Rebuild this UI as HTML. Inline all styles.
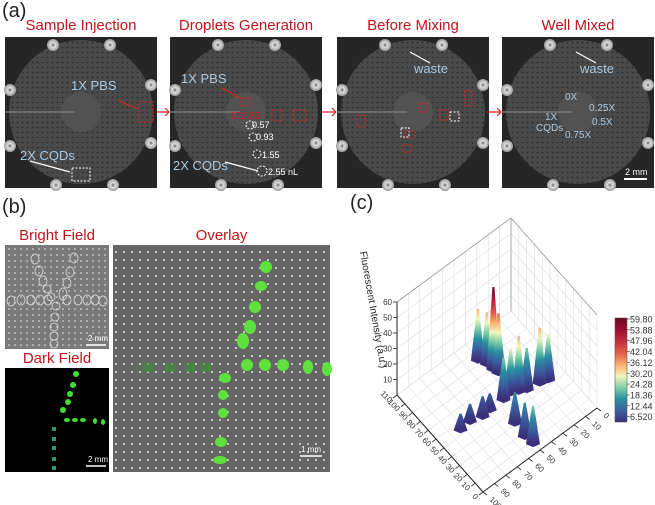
<!DOCTYPE html>
<html><head><meta charset="utf-8"><style>
html,body{margin:0;padding:0;background:#fff;}
body{width:655px;height:505px;position:relative;overflow:hidden;font-family:"Liberation Sans",sans-serif;}
.t{position:absolute;color:#c0141c;font-size:15px;text-align:center;white-space:nowrap;}
.pl{position:absolute;font-size:20px;color:#222;}
</style></head><body>
<div class="pl" style="left:2px;top:0px">(a)</div>
<div class="pl" style="left:2px;top:196px">(b)</div>
<div class="pl" style="left:350px;top:192px">(c)</div>
<div class="t" style="left:5px;width:152px;top:17px">Sample Injection</div>
<div class="t" style="left:165px;width:162px;top:17px">Droplets Generation</div>
<div class="t" style="left:337px;width:152px;top:17px">Before Mixing</div>
<div class="t" style="left:502px;width:152px;top:17px">Well Mixed</div>
<div class="t" style="left:5px;width:104px;top:227px">Bright Field</div>
<div class="t" style="left:5px;width:104px;top:350px">Dark Field</div>
<div class="t" style="left:113px;width:217px;top:227px">Overlay</div>

<svg width="655" height="505" style="position:absolute;left:0;top:0">
<defs>
<pattern id="dd" width="5" height="5" patternUnits="userSpaceOnUse"><rect width="5" height="5" fill="#4a4a4a"/><circle cx="2.5" cy="2.5" r="0.9" fill="#2a2a2a"/></pattern>
<pattern id="wd" width="6" height="6" patternUnits="userSpaceOnUse"><rect width="6" height="6" fill="#7a7a7a"/><circle cx="3" cy="3" r="0.8" fill="#e8e8e8"/></pattern>
<pattern id="wd2" width="8" height="8" patternUnits="userSpaceOnUse"><rect width="8" height="8" fill="#666"/><circle cx="4" cy="4" r="1" fill="#e0e0e0"/></pattern>
<radialGradient id="bolt"><stop offset="0" stop-color="#666"/><stop offset="0.4" stop-color="#ddd"/><stop offset="1" stop-color="#999"/></radialGradient>
<linearGradient id="cbar" x1="0" y1="1" x2="0" y2="0">
<stop offset="0" stop-color="#3b2f7a"/><stop offset="0.11" stop-color="#3a5fa0"/><stop offset="0.22" stop-color="#2a8fa0"/><stop offset="0.33" stop-color="#7fcfa5"/><stop offset="0.44" stop-color="#f5f5c0"/><stop offset="0.55" stop-color="#f9b070"/><stop offset="0.66" stop-color="#e0604a"/><stop offset="0.77" stop-color="#c83040"/><stop offset="0.88" stop-color="#a01030"/><stop offset="1" stop-color="#6a0a20"/></linearGradient>
</defs>
<g id="panelsA"></g>
<g stroke="#d22" stroke-width="1.2" fill="none">
<path d="M157 112 H169 M165 108 L169 112 L165 116"/>
<path d="M322 112 H336 M332 108 L336 112 L332 116"/>
<path d="M487 112 H501 M497 108 L501 112 L497 116"/>
</g>
<g font-size="13" fill="#a8c8e0">
<text x="71" y="90">1X PBS</text><text x="20" y="160">2X CQDs</text>
<text x="181" y="83">1X PBS</text><text x="173" y="170">2X CQDs</text>
<text x="414" y="73">waste</text><text x="580" y="73">waste</text>
</g>
<g font-size="10" fill="#a8c8e0">
<text x="565" y="100">0X</text><text x="589" y="111">0.25X</text><text x="592" y="125">0.5X</text>
<text x="545" y="120">1X</text><text x="536" y="131">CQDs</text><text x="565" y="138">0.75X</text>
</g>
<g font-size="9" fill="#fff"><text x="252" y="128">0.57</text><text x="256" y="140">0.93</text><text x="262" y="158">1.55</text><text x="268" y="175">2.55 nL</text></g>
<g font-size="10" fill="#d01818"><text x="230" y="119">172.53</text></g>
<g fill="none" stroke-dasharray="2,1.5" stroke-width="1">
<rect x="138" y="102" width="15" height="20" stroke="#d22"/>
<rect x="72" y="168" width="18" height="13" stroke="#fff"/>
<rect x="241" y="98" width="10" height="8" stroke="#d22"/>
<rect x="272" y="110" width="10" height="11" stroke="#d22"/><rect x="293" y="110" width="13" height="11" stroke="#d22"/>
<circle cx="250" cy="125" r="4" stroke="#fff"/><circle cx="253" cy="137" r="4" stroke="#fff"/><circle cx="257" cy="154" r="4" stroke="#fff"/><circle cx="262" cy="171" r="5" stroke="#fff"/>
<rect x="357" y="115" width="8" height="12" stroke="#d22"/><rect x="401" y="128" width="8" height="9" stroke="#fff"/>
<rect x="405" y="131" width="10" height="7" stroke="#d22"/><rect x="402" y="145" width="10" height="7" stroke="#d22"/>
<rect x="419" y="103" width="8" height="9" stroke="#d22"/><rect x="440" y="110" width="8" height="10" stroke="#d22"/><rect x="450" y="112" width="9" height="9" stroke="#fff"/>
<rect x="465" y="91" width="7" height="15" stroke="#d22"/>
</g>
<g stroke="#fff" stroke-width="1.2"><line x1="30" y1="161" x2="70" y2="172"/><line x1="225" y1="162" x2="258" y2="171"/><line x1="430" y1="63" x2="410" y2="52"/><line x1="596" y1="63" x2="576" y2="52"/></g>
<g stroke="#d22" stroke-width="1.2"><line x1="118" y1="100" x2="137" y2="109"/><line x1="222" y1="88" x2="240" y2="98"/></g>
<g stroke="#fff" stroke-width="2"><line x1="624" y1="179" x2="647" y2="179"/></g>
<text x="625" y="175" font-size="9" fill="#fff">2 mm</text>

<rect x="5" y="245" width="104" height="104" fill="url(#wd)"/>
<rect x="5" y="368" width="104" height="104" fill="#000"/>
<rect x="113" y="245" width="217" height="227" fill="url(#wd2)"/>
<g fill="none" stroke="#ddd" stroke-width="0.8">
<ellipse cx="35" cy="259" rx="4" ry="5"/><ellipse cx="39" cy="271" rx="4" ry="5"/><ellipse cx="43" cy="281" rx="4" ry="5"/><ellipse cx="47" cy="289" rx="4" ry="4"/><ellipse cx="51" cy="297" rx="4" ry="4"/>
<ellipse cx="74" cy="258" rx="4" ry="5"/><ellipse cx="70" cy="272" rx="4" ry="5"/><ellipse cx="67" cy="283" rx="4" ry="5"/><ellipse cx="63" cy="294" rx="4" ry="6"/>
<ellipse cx="11" cy="301" rx="4" ry="5"/><ellipse cx="21" cy="300" rx="4" ry="5"/><ellipse cx="31" cy="300" rx="4" ry="5"/><ellipse cx="40" cy="300" rx="4" ry="5"/><ellipse cx="48" cy="300" rx="4" ry="5"/>
<ellipse cx="67" cy="300" rx="4" ry="5"/><ellipse cx="78" cy="300" rx="4" ry="5"/><ellipse cx="87" cy="300" rx="4" ry="5"/><ellipse cx="95" cy="300" rx="4" ry="5"/><ellipse cx="103" cy="301" rx="4" ry="5"/>
<ellipse cx="56" cy="306" rx="4" ry="4"/><ellipse cx="55" cy="317" rx="4" ry="4"/><ellipse cx="54" cy="327" rx="4" ry="4"/><ellipse cx="54" cy="336" rx="4" ry="4"/><ellipse cx="54" cy="344" rx="4" ry="4"/>
</g>
<g fill="#3ee030"><ellipse cx="76" cy="374" rx="3" ry="3"/><ellipse cx="73" cy="385" rx="3" ry="3"/><ellipse cx="70" cy="394" rx="3" ry="3"/><ellipse cx="68" cy="402" rx="3" ry="3"/><ellipse cx="63" cy="410" rx="3" ry="3"/>
<ellipse cx="67" cy="420" rx="3" ry="2"/><ellipse cx="75" cy="420" rx="3" ry="2"/><ellipse cx="83" cy="420" rx="3" ry="2"/><ellipse cx="95" cy="421" rx="2" ry="3"/><ellipse cx="103" cy="422" rx="2" ry="3"/></g>
<g fill="#2a9a70"><rect x="52" y="427" width="4" height="4"/><rect x="52" y="437" width="4" height="4"/><rect x="52" y="446" width="4" height="4"/><rect x="52" y="457" width="4" height="4"/><rect x="52" y="466" width="4" height="4"/></g>
<g fill="#5ee83a" opacity="0.95">
<ellipse cx="266" cy="267" rx="6" ry="6"/><ellipse cx="261" cy="286" rx="6" ry="5"/><ellipse cx="255" cy="307" rx="6" ry="6"/><ellipse cx="250" cy="327" rx="6" ry="7"/><ellipse cx="243" cy="341" rx="6" ry="8"/>
<ellipse cx="247" cy="365" rx="6" ry="6"/><ellipse cx="265" cy="365" rx="6" ry="6"/><ellipse cx="283" cy="365" rx="6" ry="6"/><ellipse cx="308" cy="367" rx="5" ry="7"/><ellipse cx="327" cy="369" rx="5" ry="7"/>
<ellipse cx="225" cy="378" rx="6" ry="5"/><ellipse cx="223" cy="395" rx="5" ry="5"/><ellipse cx="223" cy="413" rx="5" ry="5"/><ellipse cx="221" cy="442" rx="6" ry="5"/><ellipse cx="220" cy="460" rx="7" ry="4"/>
</g>
<g fill="#3e8f3a" opacity="0.7"><rect x="143" y="363" width="10" height="9"/><rect x="165" y="363" width="10" height="9"/><rect x="185" y="363" width="10" height="9"/><rect x="201" y="363" width="10" height="9"/></g>
<g stroke="#fff" stroke-width="1.5"><line x1="86" y1="345" x2="106" y2="345"/><line x1="86" y1="466" x2="106" y2="466"/><line x1="300" y1="456" x2="322" y2="456"/></g>
<g font-size="8" fill="#fff"><text x="88" y="341">2 mm</text><text x="88" y="462">2 mm</text><text x="301" y="452">1 mm</text></g>

<g id="chart3d"></g>
</svg>
<script>
var NS="http://www.w3.org/2000/svg";
function mk(tag,attrs,parent){var e=document.createElementNS(NS,tag);for(var k in attrs)e.setAttribute(k,attrs[k]);parent.appendChild(e);return e;}
var pA=document.getElementById('panelsA');
var panelX=[5,170,337,502];
var boltRel=[[45,5],[102,5],[2,50],[2,106],[143,45],[143,103],[48,145],[105,145]];
panelX.forEach(function(px,i){
  var r=mk('rect',{x:px,y:37,width:152,height:151,fill:'#262626'},pA);
  
  
  mk('circle',{cx:px+76,cy:112,r:72,fill:'url(#dd)'},pA);
  mk('circle',{cx:px+76,cy:112,r:20,fill:'#525252'},pA);
  mk('line',{x1:px,y1:112,x2:px+70,y2:112,stroke:'#777','stroke-width':1.5},pA);
  boltRel.forEach(function(b){mk('circle',{cx:px+b[0]+3,cy:37+b[1]+3,r:6,fill:'url(#bolt)'},pA);});
});

var peakX=[40,37,36,35,45,38,33,28,18,12,50,51,50,82,73,64,57];
var peakY=[94,87,80,75,54,55,52,49,47,45,32,18,9,55,56,53,54];
var peakZ=[37,37,59.8,43,30,32,40,30,40,33,22,24,27,11,12,14,11];
var xTicks=[0,10,20,30,40,50,60,70,80,90,100];
var yTicks=[0,10,20,30,40,50,60,70,80,90,100,110];
var zTicks=[10,20,30,40,50,60];
var cbLabels=["59.80","53.88","47.96","42.04","36.12","30.20","24.28","18.36","12.44","6.520"];
var cmapStops=[6.52,12.44,18.36,24.28,30.2,36.12,42.04,47.96,53.88,59.8];
var cmapCols=["#3b2f7a","#3a5fa0","#2a8fa0","#7fcfa5","#f5f5c0","#f9b070","#e0604a","#c83040","#a01030","#6a0a20"];

var C=document.getElementById('chart3d');
var F=[483,492],R=[114,-84],L=[-86,-97],K=1.55,KP=1.35;
function P(x,y,z,k){var a=(100-x)/100,b=y/110;return [F[0]+R[0]*a+L[0]*b, F[1]+R[1]*a+L[1]*b-z*(k||K)];}
function ln(p,q,st,w){return mk('line',{x1:p[0],y1:p[1],x2:q[0],y2:q[1],stroke:st,'stroke-width':w||0.6},C);}
for(var x=0;x<=100;x+=10)ln(P(x,0,0),P(x,110,0),'#dde');
for(var y=0;y<=110;y+=10)ln(P(0,y,0),P(100,y,0),'#dde');
for(var x=0;x<=100;x+=10)ln(P(x,110,0),P(x,110,60),'#ddd');
for(var z=0;z<=60;z+=10)ln(P(0,110,z),P(100,110,z),'#ddd');
for(var y=0;y<=110;y+=10)ln(P(0,y,0),P(0,y,60),'#ddd');
for(var z=0;z<=60;z+=10)ln(P(0,0,z),P(0,110,z),'#ddd');
ln(P(100,110,60),P(0,110,60),'#999',0.8);ln(P(0,110,60),P(0,0,60),'#999',0.8);
ln(P(0,110,0),P(0,110,60),'#999',0.8);
ln(P(100,110,0),P(100,110,60),'#222',1);
ln(P(100,110,0),P(100,0,0),'#222',1);ln(P(100,0,0),P(0,0,0),'#222',1);
yTicks.forEach(function(v){var p=P(100,v,0);ln(p,[p[0]-4,p[1]+3],'#222',0.8);
  var t=mk('text',{x:p[0]-8,y:p[1]+8,'font-size':8,fill:'#333','text-anchor':'end',transform:'rotate(45 '+(p[0]-8)+' '+(p[1]+8)+')'},C);t.textContent=v;
  });
xTicks.forEach(function(v){var p=P(v,0,0);ln(p,[p[0]+4,p[1]+3],'#222',0.8);
  var t=mk('text',{x:p[0]+6,y:p[1]+8,'font-size':8,fill:'#333',transform:'rotate(45 '+(p[0]+6)+' '+(p[1]+8)+')'},C);t.textContent=v;
  });
zTicks.forEach(function(v){var p=P(100,110,v);ln(p,[p[0]-4,p[1]],'#222',0.8);
  var t=mk('text',{x:p[0]-5,y:p[1]+3,'font-size':8,fill:'#333','text-anchor':'end'},C);t.textContent=v;
  });
var zt=mk('text',{x:360,y:252,'font-size':10,fill:'#222',transform:'rotate(80 360 252)'},C);
zt.textContent='Fluorescent Intensity (a.u.)';


function col(v){for(var i=1;i<cmapStops.length;i++){if(v<=cmapStops[i])return cmapCols[i];}return cmapCols[cmapCols.length-1];}
var defs=document.querySelector('defs');
var order=peakX.map(function(_,i){return i;}).sort(function(a,b){return P(peakX[a],peakY[a],0)[1]-P(peakX[b],peakY[b],0)[1];});
order.forEach(function(i){
  var b=P(peakX[i],peakY[i],0),t=P(peakX[i],peakY[i],peakZ[i],KP);
  var g=mk('linearGradient',{id:'pg'+i,gradientUnits:'userSpaceOnUse',x1:0,y1:b[1],x2:0,y2:t[1]},defs);
  var n=0;cmapStops.forEach(function(s,k){if(s<=peakZ[i])n=k;});
  for(var k=0;k<=n;k++)mk('stop',{offset:n?k/n:0,'stop-color':cmapCols[k]},g);
  if(n===0)mk('stop',{offset:1,'stop-color':col(peakZ[i])},g);
  var poly=mk('polygon',{points:(b[0]-7)+','+(b[1]+2)+' '+(t[0]-1)+','+t[1]+' '+(t[0]+1)+','+t[1]+' '+(b[0]+7)+','+(b[1]+2)+' '+b[0]+','+(b[1]+5),fill:'url(#pg'+i+')'},C);
  
  
});
var cb=mk('rect',{x:615,y:318,width:12,height:104,fill:'url(#cbar)',stroke:'#555','stroke-width':0.6},C);


cbLabels.forEach(function(s,k){var y=319+k*10.85;ln([627,y],[630,y],'#333',0.6);
  var t=mk('text',{x:630,y:y+3.5,'font-size':9,fill:'#333'},C);t.textContent=s;
  });
</script>
</body></html>
